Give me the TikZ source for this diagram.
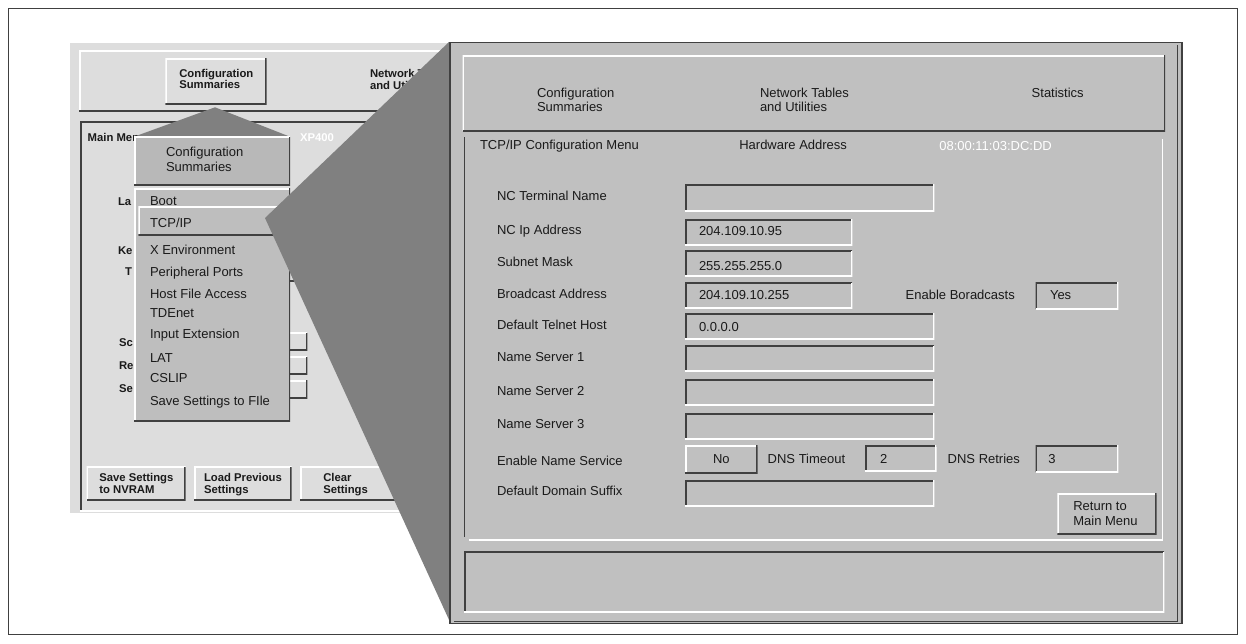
\documentclass[tikz,border=0pt]{standalone}
\usepackage{fontspec}
\setmainfont{Liberation Sans}
\definecolor{ink}{RGB}{26,26,26}
\definecolor{edge}{RGB}{64,64,64}
\definecolor{lp}{RGB}{221,221,221}
\definecolor{mp}{RGB}{192,192,192}
\definecolor{pop}{RGB}{190,190,190}
\definecolor{pophd}{RGB}{184,184,184}
\definecolor{wedge}{RGB}{128,128,128}
% two stacked lines, baseline of the node = baseline of the first line
\newcommand\twolines[2]{\begin{tabular}[t]{@{}l@{}}#1\\#2\end{tabular}}
% bevelled box: name, style, x1, y1, x2, y2 (pixel-like units, y downwards)
\newcommand\uibox[6]{\pgfmathsetmacro\uiw{#5-#3}\pgfmathsetmacro\uih{#6-#4}%
  \node[#2,anchor=north west,inner sep=0pt,outer sep=0pt,
        minimum width=\uiw pt,minimum height=\uih pt] (#1) at (#3,#4) {};}
\begin{document}
\begin{tikzpicture}[x=1pt,y=-1pt,
  txt/.style={anchor=base west,inner sep=0pt,outer sep=0pt,
              font=\fontsize{13}{14.5}\selectfont,text=ink},
  small/.style={anchor=base west,inner sep=0pt,outer sep=0pt,
              font=\fontsize{11.3}{11.7}\selectfont\bfseries,text=ink},
  bev/.style 2 args={path picture={
      \draw[#1,line width=3pt] (path picture bounding box.south west)
        -- (path picture bounding box.north west) -- (path picture bounding box.north east);
      \draw[#2,line width=3pt] (path picture bounding box.north east)
        -- (path picture bounding box.south east) -- (path picture bounding box.south west);}},
  sunken/.style={bev={edge}{white}},
  raised/.style={bev={white}{edge}},
  lowbox/.style={fill=mp,sunken},
]
\useasboundingbox (0,0) rectangle (1246,643);
\fill[white] (0,0) rectangle (1246,643);
% outer frame
\draw[edge,line width=1pt] (8.7,8.7) rectangle (1237.3,634.3);

% ---------- small main-menu screen ----------
\fill[lp] (70,42.5) rectangle (452,513);
\uibox{lhead}{fill=lp,raised}{79}{50}{452}{111.5}
\uibox{lconf}{fill=lp,raised}{165.3}{58}{266.7}{104.7}
\node[small] (lconft) at (179.3,77) {\twolines{Configuration}{Summaries}};
\node[small] (lnett) at (370,77.3) {\twolines{Network Tables}{and Utilities}};
\uibox{lmain}{fill=lp,sunken}{80}{121.7}{452}{511}
\node[small] (lmaint) at (87.7,141) {Main Menu};
\node[small,text=white] (lxp) at (300,141) {XP400};
\node[small] (lla) at (118,205) {La};
\node[small] (lke) at (118,254) {Ke};
\node[small] (lty) at (125,275) {T};
\node[small] (lsc) at (119,346) {Sc};
\node[small] (lre) at (119,369.3) {Re};
\node[small] (lse) at (119,392.7) {Se};
\uibox{lbox0}{fill=lp,raised}{286}{263}{299}{281}
\uibox{lbox1}{fill=lp,raised}{286}{332.7}{307.3}{350.7}
\uibox{lbox2}{fill=lp,raised}{286}{356.7}{307.3}{374.3}
\uibox{lbox3}{fill=lp,raised}{286}{380}{307.3}{398.3}
\uibox{lsave}{fill=lp,raised}{86.7}{466.7}{185.7}{500.7}
\uibox{lload}{fill=lp,raised}{194}{466.7}{291.7}{500.7}
\uibox{lclear}{fill=lp,raised}{300}{466.7}{397}{500.7}
\node[small] (lsavet) at (99.3,481.7) {\twolines{Save Settings}{to NVRAM}};
\node[small] (lloadt) at (204,481.7) {\twolines{Load Previous}{Settings}};
\node[small] (lcleart) at (323.3,481.7) {\twolines{Clear}{Settings}};

% ---------- pop-up menu ----------
\fill[wedge] (215,107.3) -- (290,136.7) -- (134,136.7) -- cycle;
\uibox{pophead}{fill=pophd,raised}{134}{136.7}{290}{185}
\node[txt] (popheadt) at (166,156.7) {\twolines{Configuration}{Summaries}};
\uibox{poplist}{fill=pop,raised}{134}{188.3}{290}{421.7}
\uibox{popsel}{fill=pop,raised}{138.3}{206.7}{296}{235.7}
\node[txt] (m1) at (150,205) {Boot};
\node[txt] (m2) at (150,227.7) {TCP/IP};
\node[txt] (m3) at (150,254) {X Environment};
\node[txt] (m4) at (150,276.7) {Peripheral Ports};
\node[txt] (m5) at (150,298.3) {Host File Access};
\node[txt] (m6) at (150,317.3) {TDEnet};
\node[txt] (m7) at (150,338.3) {Input Extension};
\node[txt] (m8) at (150,362.3) {LAT};
\node[txt] (m9) at (150,382.7) {CSLIP};
\node[txt] (m10) at (150,405.7) {Save Settings to FIle};

% ---------- zoom wedge from the TCP/IP entry ----------
\fill[wedge] (265,218) -- (449,42) -- (452,42) -- (452,624) -- (450,622) -- cycle;

% ---------- TCP/IP configuration screen ----------
\draw[edge,line width=1.2pt,fill=mp] (450,42.5) rectangle (1182,623.5);
\draw[edge,line width=1pt] (454,621) -- (1177,621) -- (1177,45);
\uibox{head}{fill=mp,raised}{462.7}{55}{1165}{131}
\node[txt] (hconf) at (537,97) {\twolines{Configuration}{Summaries}};
\node[txt] (hnet) at (760,97) {\twolines{Network Tables}{and Utilities}};
\node[txt] (hstat) at (1031.7,97) {Statistics};

% form frame
\draw[edge,line width=1.5pt] (464.5,137) -- (464.5,537);
\draw[white,line width=1.3pt] (469,540) -- (1162.3,540) -- (1162.3,139);
\node[txt] (menut) at (480,149) {TCP/IP Configuration Menu};
\node[txt] (hwt) at (739.3,149) {Hardware Address};
\node[txt,text=white] (hwv) at (939.3,150.7) {08:00:11:03:DC:DD};

% labels
\node[txt] (l1) at (497,200) {NC Terminal Name};
\node[txt] (l2) at (497,234.3) {NC Ip Address};
\node[txt] (l3) at (497,266) {Subnet Mask};
\node[txt] (l4) at (497,298.3) {Broadcast Address};
\node[txt] (l5) at (497,329.3) {Default Telnet Host};
\node[txt] (l6) at (497,361) {Name Server 1};
\node[txt] (l7) at (497,395.3) {Name Server 2};
\node[txt] (l8) at (497,428.3) {Name Server 3};
\node[txt] (l9) at (497,465) {Enable Name Service};
\node[txt] (l10) at (497,495) {Default Domain Suffix};

% entry fields
\uibox{f1}{lowbox}{685}{184.3}{934.3}{211}
\uibox{f2}{lowbox}{685}{219.3}{852.3}{245.5}
\uibox{f3}{lowbox}{685}{250.7}{852.3}{276.7}
\uibox{f4}{lowbox}{685}{282.7}{852.3}{308.3}
\uibox{f5}{lowbox}{685}{313.3}{934.3}{339.3}
\uibox{f6}{lowbox}{685}{345.7}{934.3}{371.7}
\uibox{f7}{lowbox}{685}{379.3}{934.3}{405.7}
\uibox{f8}{lowbox}{685}{413.3}{934.3}{439.3}
\uibox{f10}{lowbox}{685}{480}{934.3}{506}
\node[txt] (v2) at (699,235) {204.109.10.95};
\node[txt] (v3) at (699,270.7) {255.255.255.0};
\node[txt] (v4) at (699,299) {204.109.10.255};
\node[txt] (v5) at (699,331.7) {0.0.0.0};

\node[txt] (lbc) at (905.7,299) {Enable Boradcasts};
\uibox{fbc}{lowbox}{1035.7}{282.3}{1118.3}{309.3}
\node[txt] (vbc) at (1050,299) {Yes};

\uibox{bno}{fill=mp,raised}{685}{445}{757.7}{473.3}
\node[txt,anchor=base] (vno) at (721.3,463.3) {No};
\node[txt] (ldt) at (767.7,463.3) {DNS Timeout};
\uibox{fdt}{lowbox}{865}{445}{936.7}{471.7}
\node[txt] (vdt) at (880,463.3) {2};
\node[txt] (ldr) at (947.7,463.3) {DNS Retries};
\uibox{fdr}{lowbox}{1035.7}{445}{1118.3}{472}
\node[txt] (vdr) at (1048.3,463.3) {3};

\uibox{bret}{fill=mp,raised}{1057.3}{493.3}{1156.7}{534.3}
\node[txt] (brett) at (1073.3,510.7) {\twolines{Return to}{Main Menu}};

% status line
\uibox{status}{lowbox}{464}{551.7}{1164.3}{612.3}
\end{tikzpicture}
\end{document}
